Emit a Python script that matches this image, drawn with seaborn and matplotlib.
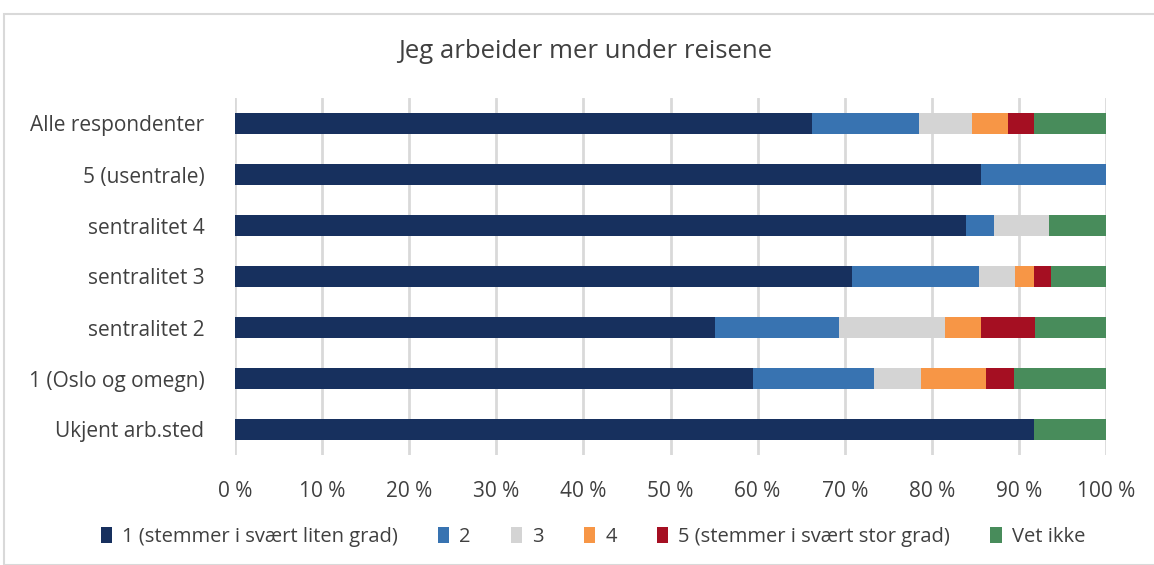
import numpy as np
import pandas as pd
import matplotlib
matplotlib.use("Agg")
import matplotlib.pyplot as plt
import seaborn as sns
from matplotlib.patches import Rectangle

categories = ["Alle respondenter", "5 (usentrale)", "sentralitet 4", "sentralitet 3",
              "sentralitet 2", "1 (Oslo og omegn)", "Ukjent arb.sted"]
series_names = ["1 (stemmer i svært liten grad)", "2", "3", "4",
                "5 (stemmer i svært stor grad)", "Vet ikke"]
s1 = [66.3, 85.7, 83.9, 70.8, 55.1, 59.5, 91.7]
s2 = [12.2, 14.3, 3.2, 14.6, 14.3, 13.9, 0.0]
s3 = [6.1, 0.0, 6.4, 4.2, 12.1, 5.4, 0.0]
s4 = [4.2, 0.0, 0.0, 2.1, 4.2, 7.4, 0.0]
s5 = [2.9, 0.0, 0.0, 2.0, 6.2, 3.2, 0.0]
s6 = [8.3, 0.0, 6.5, 6.3, 8.1, 10.6, 8.3]
colors = ["#17305E", "#3873B1", "#D4D4D4", "#F79646", "#A50F22", "#488C5B"]
tick_labels = ["0 %", "10 %", "20 %", "30 %", "40 %", "50 %", "60 %", "70 %", "80 %", "90 %", "100 %"]

sns.set_style("white")
plt.rcParams["font.family"] = ["Open Sans", "DejaVu Sans"]

values = np.array([s1, s2, s3, s4, s5, s6])
cum = np.cumsum(values, axis=0)

fig = plt.figure(figsize=(11.54, 5.65), dpi=100)
ax = fig.add_axes([235 / 1154, 1 - 455 / 565, (1106 - 235) / 1154, (455 - 98) / 565])

# draw from last cumulative to first so earlier series overlay
for i in range(len(series_names) - 1, -1, -1):
    df = pd.DataFrame({"cat": categories, "val": cum[i]})
    sns.barplot(data=df, x="val", y="cat", orient="h", color=colors[i],
                width=0.4, ax=ax, saturation=1, label=series_names[i], zorder=3,
                linewidth=0, edgecolor="none")

ax.set_xlim(0, 100)
ax.set_ylim(6.5, -0.5)
ax.set_xticks(np.arange(0, 101, 10))
ax.set_xticklabels(tick_labels)
ax.xaxis.grid(True, color="#D9D9D9", linewidth=2, zorder=0)
ax.set_axisbelow(True)
for s in ax.spines.values():
    s.set_visible(False)
ax.set_xlabel("")
ax.set_ylabel("")
ax.tick_params(axis="x", labelsize=15, colors="#404040", pad=19, length=0)
ax.tick_params(axis="y", labelsize=15, colors="#404040", pad=22, length=0)

fig.text(585 / 1154, 1 - 51 / 565, "Jeg arbeider mer under reisene", ha="center", va="center",
         fontsize=18.5, color="#404040")

handles, labels = ax.get_legend_handles_labels()
order = [labels.index(n) for n in series_names]
leg = fig.legend([handles[k] for k in order], [labels[k] for k in order],
                 loc="center", bbox_to_anchor=(593 / 1154, 1 - 537 / 565), ncol=6, frameon=False,
                 fontsize=14.5, handlelength=0.55, handleheight=0.8, handletextpad=0.5,
                 columnspacing=2.0, labelcolor="#404040")
if ax.get_legend():
    ax.get_legend().remove()

fig.patches.append(Rectangle((4 / 1154, 0), 1, 1 - 14 / 565, transform=fig.transFigure,
                             fill=False, edgecolor="#D9D9D9", linewidth=1.5))

fig.savefig("out.png", dpi=100)
